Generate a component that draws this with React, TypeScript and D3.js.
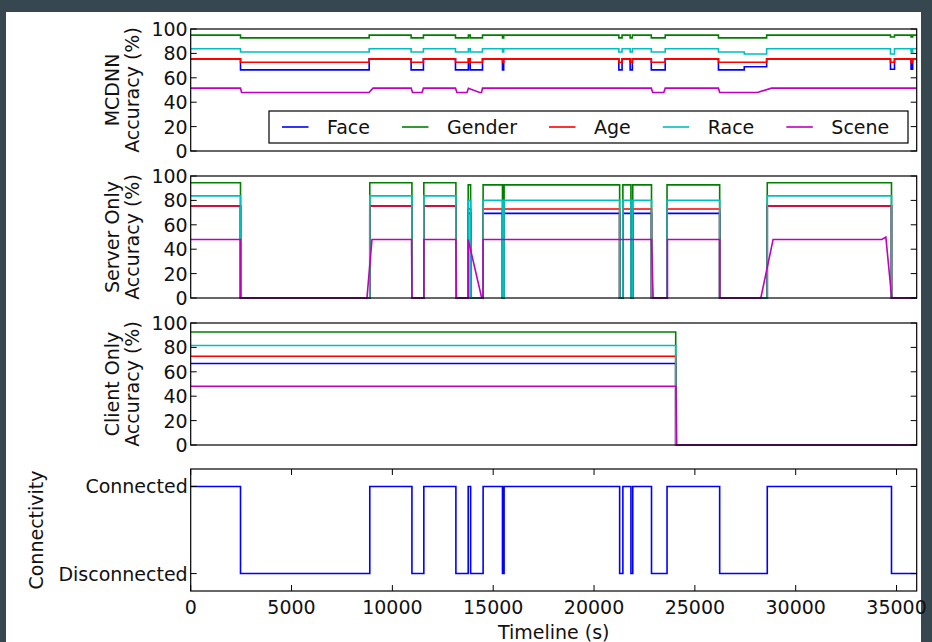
import React, { useEffect, useRef } from "react";
import * as d3 from "d3";

const seriesNames = ["Face", "Gender", "Age", "Race", "Scene"];
const seriesColors = ["#0000ff", "#008000", "#ff0000", "#00bfbf", "#bf00bf"];
const xTicks = [0, 5000, 10000, 15000, 20000, 25000, 30000, 35000];
const accTicks = [0, 20, 40, 60, 80, 100];
const connLabels = ["Disconnected", "Connected"];

// MCDNN panel (step series share one time axis)
const mcTimes = [0, 2470, 8850, 10930, 11540, 13130, 13770, 13860, 14470, 15460, 15520, 21230, 21390, 21790, 21900, 22840, 23530, 26170, 27450, 28560, 34700, 34900, 35720, 35800, 36000];
const mcFace = [75.5, 66.5, 75.5, 66.5, 75.5, 66.5, 75.5, 66.5, 75.5, 66.5, 75.5, 66.5, 75.5, 66.5, 75.5, 66.5, 75.5, 66.5, 69, 75.5, 67, 75.5, 67, 75.5, 75.5];
const mcGender = [95, 92.7, 95, 92.7, 95, 92.7, 95, 92.7, 95, 92.7, 95, 92.7, 95, 92.7, 95, 92.7, 95, 92.7, 92.7, 95, 93.5, 95, 93.5, 95, 95];
const mcAge = [75.5, 72.8, 75.5, 72.8, 75.5, 72.8, 75.5, 72.8, 75.5, 72.8, 75.5, 72.8, 75.5, 72.8, 75.5, 72.8, 75.5, 72.8, 72.8, 75.5, 72.8, 75.5, 72.8, 75.5, 75.5];
const mcRace = [83.8, 81.2, 83.8, 81.2, 83.8, 81.2, 83.8, 81.2, 83.8, 81.2, 83.8, 81.2, 83.8, 81.2, 83.8, 81.2, 83.8, 81.2, 79.5, 83.8, 79.5, 83.8, 81.2, 83.8, 83.8];
const mcScene = [[0, 51.5], [2470, 51.5], [2520, 48], [8840, 48], [9040, 51.5], [10930, 51.5], [11000, 48], [11470, 48], [11540, 51.5], [13130, 51.5], [13200, 48], [13700, 48], [13770, 51.5], [14330, 48], [14420, 48], [14470, 51.5], [22840, 51.5], [22910, 48], [23460, 48], [23530, 51.5], [26170, 51.5], [26230, 48], [28100, 48], [28800, 51.5], [36000, 51.5]];

// server only panel + connectivity
const connTimes = [0, 2470, 8880, 10970, 11560, 13150, 13760, 13880, 14500, 15460, 15540, 21270, 21430, 21830, 21920, 22850, 23620, 26230, 28590, 34750, 36000];
const connState = [1, 0, 1, 0, 1, 0, 1, 0, 1, 0, 1, 0, 1, 0, 1, 0, 1, 0, 1, 0, 0];
const srvFace = [75.5, 0, 75.5, 0, 75.5, 0, 69.4, 0, 69.4, 0, 69.4, 0, 69.4, 0, 69.4, 0, 69.4, 0, 75.5, 0, 0];
const srvGender = [94.5, 0, 94.5, 0, 94.5, 0, 92.7, 0, 92.7, 0, 92.7, 0, 92.7, 0, 92.7, 0, 92.7, 0, 94.5, 0, 0];
const srvAge = [75.5, 0, 75.5, 0, 75.5, 0, 73, 0, 73, 0, 73, 0, 73, 0, 73, 0, 73, 0, 75.5, 0, 0];
const srvRace = [83.7, 0, 83.7, 0, 83.7, 0, 80, 0, 80, 0, 80, 0, 80, 0, 80, 0, 80, 0, 83.7, 0, 0];
const srvScene = [[0, 48], [2470, 48], [2470, 0], [8740, 0], [8990, 48], [10950, 48], [10970, 0], [11560, 0], [11560, 48], [13150, 48], [13170, 0], [13760, 0], [13760, 48], [14430, 0], [14500, 0], [14500, 48], [22850, 48], [22930, 0], [23640, 0], [23640, 48], [26230, 48], [26230, 0], [28270, 0], [28880, 48], [34270, 48], [34470, 50], [34760, 0], [36000, 0]];

// client only panel
const cliTimes = [0, 24050, 36000];
const cliFace = [66.8, 0, 0];
const cliGender = [92.6, 0, 0];
const cliAge = [72.8, 0, 0];
const cliRace = [81.5, 0, 0];
const cliScene = [[0, 48.2], [24060, 48.2], [24100, 0], [36000, 0]];

const FONT = "DejaVu Sans";

function App() {
  const ref = useRef(null);

  useEffect(() => {
    const svg = d3.select(ref.current);
    svg.selectAll("*").remove();

    const W = 932, H = 642;
    const left = 190.7, right = 916.7, ph = 122;
    const tops = [29, 176, 323, 469];
    const tick = 6;

    svg.append("rect").attr("width", W).attr("height", H).attr("fill", "#37474f");
    svg.append("rect").attr("x", 6).attr("y", 12).attr("width", 915).attr("height", H - 12).attr("fill", "#fff");

    const x = d3.scaleLinear().domain([0, 36000]).range([left, right]);

    const stepLine = (times, vals, y) =>
      d3.line().x((d, i) => x(times[i])).y((d) => y(d)).curve(d3.curveStepAfter)(vals);
    const linLine = (pts, y) =>
      d3.line().x((d) => x(d[0])).y((d) => y(d[1]))(pts);

    function frame(top, y, ticks, labels) {
      const g = svg.append("g");
      ticks.forEach((t, i) => {
        g.append("line").attr("x1", left).attr("x2", left + tick).attr("y1", y(t)).attr("y2", y(t)).attr("stroke", "#000");
        g.append("line").attr("x1", right - tick).attr("x2", right).attr("y1", y(t)).attr("y2", y(t)).attr("stroke", "#000");
        g.append("text")
          .attr("x", left - 3)
          .attr("y", y(t))
          .attr("text-anchor", "end")
          .attr("dominant-baseline", "central")
          .attr("font-family", FONT)
          .attr("font-size", 19)
          .attr("fill", "#111")
          .text(labels ? labels[i] : t);
      });
      svg.append("rect")
        .attr("x", left).attr("y", top).attr("width", right - left).attr("height", ph)
        .attr("fill", "none").attr("stroke", "#000").attr("stroke-width", 1.2);
    }

    function ylabel(lines, top) {
      const cx = [112, 132];
      lines.forEach((s, i) => {
        svg.append("text")
          .attr("transform", "translate(" + (lines.length === 1 ? 36 : cx[i]) + "," + (top + ph / 2) + ") rotate(-90)")
          .attr("text-anchor", "middle")
          .attr("dominant-baseline", "central")
          .attr("font-family", FONT)
          .attr("font-size", 19)
          .attr("fill", "#111")
          .text(s);
      });
    }

    const panels = [
      { step: [mcFace, mcGender, mcAge, mcRace], times: mcTimes, scene: mcScene, label: ["MCDNN", "Accuracy (%)"] },
      { step: [srvFace, srvGender, srvAge, srvRace], times: connTimes, scene: srvScene, label: ["Server Only", "Accuracy (%)"] },
      { step: [cliFace, cliGender, cliAge, cliRace], times: cliTimes, scene: cliScene, label: ["Client Only", "Accuracy (%)"] },
    ];

    panels.forEach((p, k) => {
      const top = tops[k];
      const y = d3.scaleLinear().domain([0, 100]).range([top + ph, top]);
      const g = svg.append("g");
      p.step.forEach((vals, i) => {
        g.append("path").attr("d", stepLine(p.times, vals, y))
          .attr("fill", "none").attr("stroke", seriesColors[i]).attr("stroke-width", 1.6);
      });
      g.append("path").attr("d", linLine(p.scene, y))
        .attr("fill", "none").attr("stroke", seriesColors[4]).attr("stroke-width", 1.6);
      frame(top, y, accTicks, null);
      ylabel(p.label, top);
    });

    // legend in first panel
    const lg = svg.append("g");
    const lx = 269, ly = 111, lw = 639, lh = 32;
    lg.append("rect").attr("x", lx).attr("y", ly).attr("width", lw).attr("height", lh)
      .attr("fill", "#fff").attr("stroke", "#000").attr("stroke-width", 1.2);
    let cx = 282;
    seriesNames.forEach((name, i) => {
      lg.append("line").attr("x1", cx).attr("x2", cx + 26.5).attr("y1", ly + lh / 2).attr("y2", ly + lh / 2)
        .attr("stroke", seriesColors[i]).attr("stroke-width", 1.6);
      const t = lg.append("text")
        .attr("x", cx + 45)
        .attr("y", ly + lh / 2)
        .attr("dominant-baseline", "central")
        .attr("font-family", FONT)
        .attr("font-size", 19)
        .attr("fill", "#111")
        .text(name);
      cx = cx + 45 + t.node().getComputedTextLength() + 32;
    });

    // connectivity panel
    const top4 = tops[3];
    const y4 = d3.scaleLinear().domain([-0.2, 1.2]).range([top4 + ph, top4]);
    svg.append("path").attr("d", stepLine(connTimes, connState, y4))
      .attr("fill", "none").attr("stroke", seriesColors[0]).attr("stroke-width", 1.6);
    xTicks.forEach((t) => {
      svg.append("line").attr("x1", x(t)).attr("x2", x(t)).attr("y1", top4).attr("y2", top4 + tick).attr("stroke", "#000");
      svg.append("line").attr("x1", x(t)).attr("x2", x(t)).attr("y1", top4 + ph - tick).attr("y2", top4 + ph).attr("stroke", "#000");
      svg.append("text")
        .attr("x", x(t))
        .attr("y", top4 + ph + 23)
        .attr("text-anchor", "middle")
        .attr("font-family", FONT)
        .attr("font-size", 19)
        .attr("fill", "#111")
        .text(t);
    });
    frame(top4, y4, [0, 1], connLabels);
    ylabel(["Connectivity"], top4);

    svg.append("text")
      .attr("x", (left + right) / 2)
      .attr("y", 639)
      .attr("text-anchor", "middle")
      .attr("font-family", FONT)
      .attr("font-size", 19)
      .attr("fill", "#111")
      .text("Timeline (s)");
  }, []);

  return (
    <svg ref={ref} width={932} height={642} style={{ position: "absolute", left: 0, top: 0 }}></svg>
  );
}

export default App;
